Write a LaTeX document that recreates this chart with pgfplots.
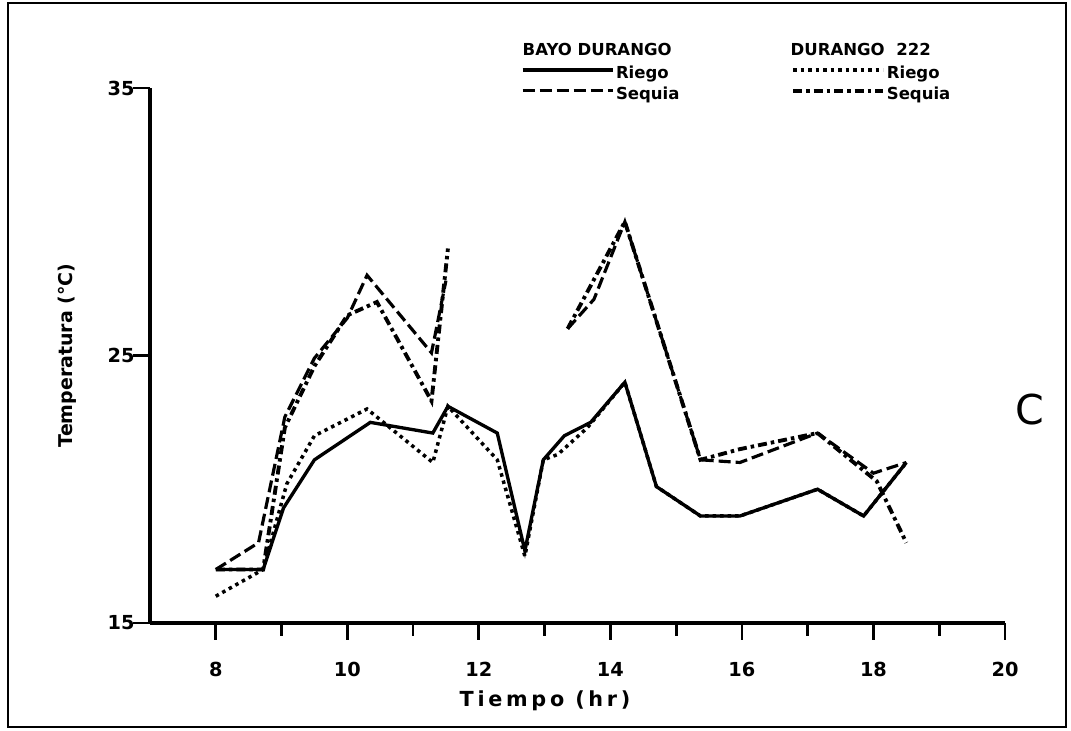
\documentclass[border=0pt]{standalone}
\usepackage{pgfplots}
\pgfplotsset{compat=1.18}
\usepackage{fontspec}
\setmainfont{DejaVu Sans}
\newfontfamily\spacedfont{DejaVu Sans}[LetterSpace=18]
\begin{document}
\begin{tikzpicture}
\path (0,0) rectangle (10.71,7.31);
\draw[line width=0.6pt] (0.08,0.04) rectangle (10.66,7.28);
\begin{axis}[
  at={(1.50cm,1.08cm)}, anchor=south west,
  scale only axis, width=8.55cm, height=5.35cm,
  xmin=7, xmax=20, ymin=15, ymax=35,
  axis x line=bottom, axis y line=left,
  axis line style={line width=0.9pt, -},
  xtick={8,10,...,20}, minor xtick={9,11,...,19},
  ytick={15,25,35},
  tick align=outside,
  major tick length=0.17cm, minor tick length=0.13cm,
  every tick/.style={black, line width=0.8pt},
  /pgf/number format/assume math mode=true,
  ticklabel style={font=\bfseries\fontsize{5.5}{6}\selectfont},
  xticklabel style={yshift=-0.1cm},
  yticklabel style={xshift=0.14cm},
  xlabel={\spacedfont\bfseries Tiempo (hr)},
  ylabel={\bfseries Temperatura (°C)},
  xlabel style={at={(axis description cs:0.462,-0.146)}, anchor=center, font=\fontsize{5.9}{7}\selectfont},
  ylabel style={at={(axis description cs:-0.097,0.5)}, anchor=center, font=\fontsize{5.4}{7}\selectfont},
  unbounded coords=jump,
  clip=false,
  legend columns=2,
  legend cell align=left,
  legend image code/.code={\draw[#1] (0cm,0cm) -- (0.9cm,0cm);},
  legend style={at={(axis description cs:0.433,1.071)}, anchor=north west,
    draw=none, fill=none, inner sep=0pt, row sep=-5.1pt,
    font=\bfseries\fontsize{4.7}{5}\selectfont,
    nodes={inner sep=0.5pt, text height=0.75em, text depth=0.25em},
    /tikz/every even column/.append style={column sep=1.1cm}},
]
% BAYO DURANGO - Riego (solid)
\addplot[black, line width=0.95pt] coordinates {
(8.0,17.0) (8.72,17.0) (9.03,19.3) (9.5,21.1) (10.35,22.5) (11.3,22.1) (11.53,23.1)
(12.28,22.1) (12.7,17.7) (12.98,21.1) (13.3,22.0) (13.7,22.5) (14.22,24.0) (14.7,20.1)
(15.37,19.0) (15.97,19.0) (17.15,20.0) (17.85,19.0) (18.5,21.0)};
\addlegendentry{Riego}
% DURANGO 222 - Riego (dotted)
\addplot[black, line width=1.0pt, dash pattern=on 0.35mm off 0.4mm] coordinates {
(8.0,16.0) (8.72,17.0) (9.08,20.2) (9.5,22.0) (10.3,23.0) (11.3,21.0) (11.53,23.1)
(12.28,21.1) (12.7,17.5) (12.98,21.1) (13.2,21.3) (13.65,22.3) (14.22,24.0) (14.7,20.1)
(15.37,19.0) (15.97,19.0) (17.15,20.0) (17.85,19.0) (18.5,21.0)};
\addlegendentry{Riego}
% BAYO DURANGO - Sequia (dashed)
\addplot[black, line width=0.9pt, dash pattern=on 1.2mm off 0.5mm] coordinates {
(8.0,17.0) (8.65,18.0) (9.05,22.7) (9.5,24.9) (10.0,26.4) (10.3,28.0) (11.28,25.1) (11.5,27.8)
(12.4,nan)
(13.35,26.0) (13.75,27.1) (14.22,30.0) (15.37,21.1) (15.97,21.0) (17.15,22.1) (18.0,20.6) (18.5,21.0)};
\addlegendentry{Sequia}
% DURANGO 222 - Sequia (dash-dot)
\addplot[black, line width=1.1pt, dash pattern=on 0.9mm off 0.4mm on 0.35mm off 0.4mm] coordinates {
(8.0,17.0) (8.72,17.0) (9.05,22.3) (9.5,24.6) (10.0,26.5) (10.45,27.0) (11.28,23.3) (11.53,29.0)
(12.4,nan)
(13.35,26.0) (14.22,30.0) (15.37,21.1) (15.97,21.5) (17.15,22.1) (18.05,20.3) (18.5,18.0)};
\addlegendentry{Sequia}
\end{axis}
\node[anchor=west, font=\bfseries\fontsize{4.7}{5}\selectfont, inner sep=0pt] at (5.22,6.81) {BAYO DURANGO};
\node[anchor=west, font=\bfseries\fontsize{4.7}{5}\selectfont, inner sep=0pt] at (7.90,6.81) {DURANGO\ \ 222};
\node[font=\fontsize{11.7}{13}\selectfont, inner sep=0pt] at (10.30,3.21) {C};
\end{tikzpicture}
\end{document}
